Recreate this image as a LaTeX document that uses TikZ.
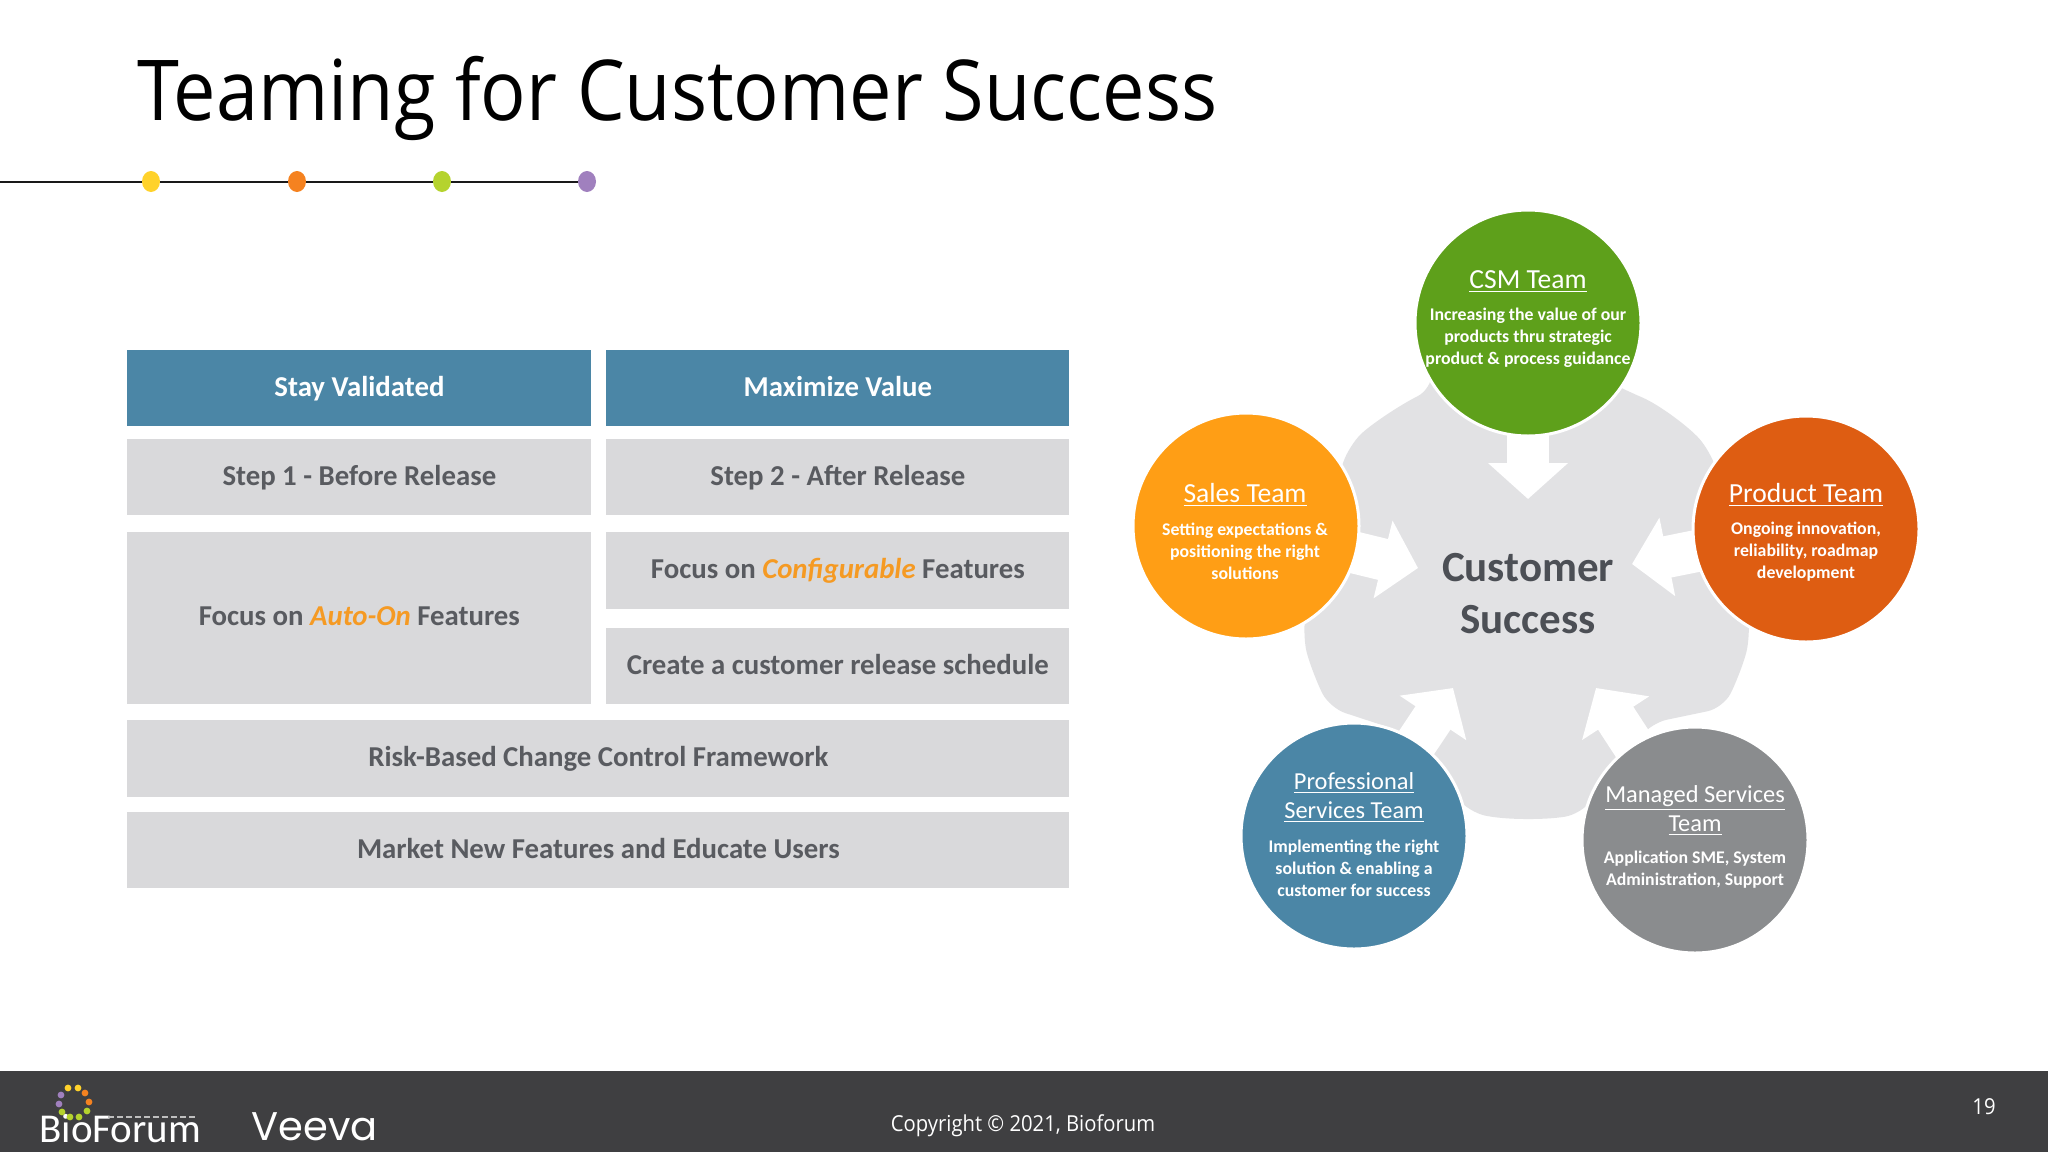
\documentclass[tikz,border=0pt]{standalone}
\usepackage{fontspec}
\usetikzlibrary{arrows.meta,shapes.geometric}
\setmainfont{Carlito}
\newfontfamily\titlefont[FakeStretch=0.9]{Open Sans}
\newfontfamily\copyfont[FakeStretch=0.92]{Open Sans}
\newfontfamily\veevafont{Poppins}
\definecolor{hdr}{HTML}{4B86A6}
\definecolor{cell}{HTML}{D9D9DB}
\definecolor{celltxt}{HTML}{595B60}
\definecolor{hubtxt}{HTML}{4C4F55}
\definecolor{accent}{HTML}{F59A23}
\definecolor{disc}{HTML}{E2E2E4}
\definecolor{bar}{HTML}{3F3F41}
\definecolor{csmgreen}{HTML}{5EA01B}
\definecolor{salesorange}{HTML}{FF9E15}
\definecolor{prodorange}{HTML}{DE5D12}
\definecolor{mgdgray}{HTML}{8A8C8E}
\definecolor{dotyellow}{HTML}{FFD22B}
\definecolor{dotorange}{HTML}{F58220}
\definecolor{dotgreen}{HTML}{B5D32E}
\definecolor{dotviolet}{HTML}{A080BE}
\tikzset{
  x=0.5pt,y=-0.5pt,
  tcell/.style={fill=cell,inner sep=0pt,text=celltxt,font=\fontsize{14.4}{17}\selectfont\bfseries,align=center},
  thead/.style={tcell,fill=hdr,text=white},
  team/.style={circle,draw=white,line width=1.5pt,minimum size=113pt,inner sep=0pt},
  inflow/.style={white,line width=21pt,-{Triangle[width=39pt,length=18pt,sharp]}},
  tick/.style={ellipse,inner sep=0pt,minimum width=9pt,minimum height=10.5pt},
  ttl/.style={text=white,align=center,inner sep=0pt,font=\fontsize{13.8}{14.5}\selectfont},
  ttltwo/.style={text=white,align=center,inner sep=0pt,font=\fontsize{12.2}{14.5}\selectfont},
  sub/.style={text=white,align=center,inner sep=0pt,font=\fontsize{8.9}{11}\selectfont\bfseries},
  ringdot/.style={circle,inner sep=0pt,minimum size=3.4pt},
}
\newcommand{\cellbox}[7][tcell]{\node[#1,minimum width=#4*0.5pt-#2*0.5pt,minimum height=#5*0.5pt-#3*0.5pt,anchor=north west] (#6) at (#2,#3) {\vphantom{Ag}#7};}
\begin{document}
\begin{tikzpicture}
\useasboundingbox (0,0) rectangle (2048,1152);
\fill[white] (0,0) rectangle (2048,1152);
% title and timeline
\node[anchor=base west,inner sep=0pt,font=\titlefont\fontsize{42}{46}\selectfont] (title) at (137,120) {Teaming for Customer Success};
\coordinate (lineStart) at (0,181.5);
\node[tick,fill=dotyellow] (t1) at (151,181.5) {};
\node[tick,fill=dotorange] (t2) at (297,181.5) {};
\node[tick,fill=dotgreen] (t3) at (442,181.5) {};
\node[tick,fill=dotviolet] (t4) at (587,181.5) {};
\draw[line width=1pt,black!90] (lineStart) -- (t1) -- (t2) -- (t3) -- (t4);
% table
\cellbox[thead]{127}{350}{591}{426}{h1}{Stay Validated}
\cellbox[thead]{606}{350}{1069}{426}{h2}{Maximize Value}
\cellbox{127}{439}{591}{515}{s1}{Step 1 - Before Release}
\cellbox{606}{439}{1069}{515}{s2}{Step 2 - After Release}
\cellbox{127}{532}{591}{704}{a1}{Focus on {\color{accent}\itshape Auto-On} Features}
\cellbox{606}{532}{1069}{609}{c1}{Focus on {\color{accent}\itshape Configurable} Features}
\cellbox{606}{628}{1069}{704}{c2}{Create a customer release schedule}
\cellbox{127}{720}{1069}{797}{r1}{Risk-Based Change Control Framework}
\cellbox{127}{812}{1069}{888}{m1}{Market New Features and Educate Users}
% central shape
\fill[disc,rounded corners=8pt] (1432,389) .. controls (1470,372) and (1590,372) .. (1627,391)
  .. controls (1660,405) and (1690,428) .. (1710,451)
  .. controls (1730,510) and (1745,580) .. (1750,633)
  .. controls (1745,660) and (1735,685) .. (1723,708) -- (1651,723) -- (1581,814)
  .. controls (1545,820) and (1505,820) .. (1469,812)
  -- (1400,731) -- (1330,708)
  .. controls (1318,685) and (1308,660) .. (1303,633)
  .. controls (1310,580) and (1330,500) .. (1349,446)
  .. controls (1370,425) and (1400,405) .. (1432,389) -- cycle;
\coordinate (tipC) at (1528,499);
\coordinate (tipS) at (1418,568);
\coordinate (tipP) at (1632,564);
\coordinate (tipF) at (1453,688);
\coordinate (tipM) at (1596,688);
\coordinate (ctrC) at (1528,323);
\coordinate (ctrS) at (1246,526);
\coordinate (ctrP) at (1806,529);
\coordinate (ctrF) at (1354,836);
\coordinate (ctrM) at (1695,840);
\draw[inflow] (ctrC) -- (tipC);
\draw[inflow] (ctrS) -- (tipS);
\draw[inflow] (ctrP) -- (tipP);
\draw[inflow] (ctrF) -- (tipF);
\draw[inflow] (ctrM) -- (tipM);
\node[inner sep=0pt,text=hubtxt,align=center,font=\fontsize{21.5}{26}\selectfont\bfseries] (hub) at (1528,594) {Customer\\Success};
% team circles
\node[team,fill=csmgreen] (csm) at (ctrC) {};
\node[team,fill=salesorange] (sales) at (ctrS) {};
\node[team,fill=prodorange] (prod) at (ctrP) {};
\node[team,fill=hdr] (prof) at (ctrF) {};
\node[team,fill=mgdgray] (mgd) at (ctrM) {};
\node[ttl] (csmT) at (1528,282) {\underline{CSM Team}};
\node[sub] (csmS) at (1528,338) {Increasing the value of our\\products thru strategic\\product \& process guidance};
\node[ttl] (salesT) at (1245,495) {\underline{Sales Team}};
\node[sub] (salesS) at (1245,551) {Setting expectations \&\\positioning the right\\solutions};
\node[ttl] (prodT) at (1806,495) {\underline{Product Team}};
\node[sub] (prodS) at (1806,552) {Ongoing innovation,\\reliability, roadmap\\development};
\node[ttltwo] (profT) at (1354,798) {\underline{Professional}\\\underline{Services Team}};
\node[sub] (profS) at (1354,868) {Implementing the right\\solution \& enabling a\\customer for success};
\node[ttltwo] (mgdT) at (1695,811) {\underline{Managed Services}\\\underline{Team}};
\node[sub] (mgdS) at (1695,870) {Application SME, System\\Administration, Support};
% footer
\fill[bar] (0,1071) rectangle (2048,1152);
\node[text=white,inner sep=0pt,font=\copyfont\fontsize{11}{13}\selectfont] (copy) at (1023,1126) {Copyright © 2021, Bioforum};
\node[text=white,inner sep=0pt,font=\copyfont\fontsize{11}{13}\selectfont] (page) at (1984,1107) {19};
% BioForum logo
\node[anchor=base west,inner sep=0pt,text=white,font=\fontsize{20.5}{22}\selectfont] (bio) at (39,1142) {BioForum};
\draw[white!75!black,line width=1pt,dash pattern=on 3pt off 1.5pt] (108,1117) -- (197,1117);
\node[ringdot,fill=dotyellow] (r1) at (68,1088) {};
\node[ringdot,fill=dotyellow] (r2) at (78,1088) {};
\node[ringdot,fill=dotorange] (r3) at (85,1093) {};
\node[ringdot,fill=dotorange] (r4) at (89,1102) {};
\node[ringdot,fill=dotgreen] (r5) at (87,1111) {};
\node[ringdot,fill=dotgreen] (r6) at (79,1117) {};
\node[ringdot,fill=dotgreen] (r7) at (70,1117) {};
\node[ringdot,fill=dotgreen] (r8) at (62,1112) {};
\node[ringdot,fill=dotviolet] (r9) at (59,1104) {};
\node[ringdot,fill=dotviolet] (r10) at (61,1095) {};
% Veeva logo
\node[anchor=base west,inner sep=0pt,text=white,font=\veevafont\fontsize{20}{22}\selectfont] (veeva) at (251,1140) {Veeva};
\end{tikzpicture}
\end{document}
